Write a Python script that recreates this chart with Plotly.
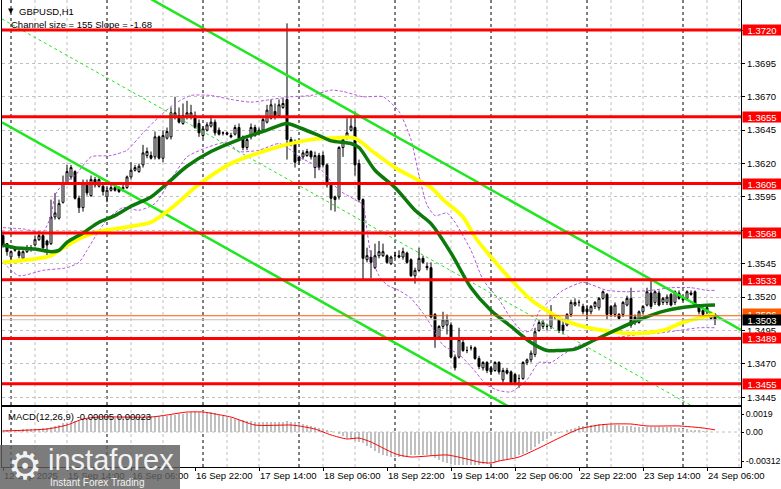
import plotly.graph_objects as go

W, H = 781, 489

# ---------------- data ----------------
time_labels = ["12 Sep 2025", "15 Sep 14:00", "16 Sep 06:00", "16 Sep 22:00", "17 Sep 14:00",
               "18 Sep 06:00", "18 Sep 22:00", "19 Sep 14:00", "22 Sep 06:00", "22 Sep 22:00",
               "23 Sep 14:00", "24 Sep 06:00"]
label_bars = [0, 16, 32, 48, 64, 80, 96, 112, 128, 144, 160, 176]
day_separator_bars = [2, 26, 50, 74, 98, 122, 146, 170]
grid_bars = [8, 16, 32, 40, 56, 64, 80, 88, 104, 112, 128, 136, 152, 160, 176, 184]

opens = [1.3566,1.3560,1.3550,1.3555,1.3554,1.3549,1.3554,1.3556,1.3559,1.3563,
 1.3566,1.3562,1.3560,1.3580,1.3579,1.3591,1.3605,1.3610,1.3614,1.3594,
 1.3587,1.3605,1.3596,1.3608,1.3603,1.3603,1.3595,1.3600,1.3602,1.3602,
 1.3601,1.3602,1.3610,1.3615,1.3614,1.3619,1.3626,1.3626,1.3625,1.3640,
 1.3624,1.3639,1.3640,1.3655,1.3656,1.3650,1.3655,1.3655,1.3656,1.3650,
 1.3641,1.3645,1.3648,1.3651,1.3645,1.3643,1.3643,1.3641,1.3642,1.3647,
 1.3640,1.3632,1.3640,1.3647,1.3643,1.3645,1.3651,1.3654,1.3659,1.3656,
 1.3662,1.3668,1.3638,1.3635,1.3625,1.3625,1.3626,1.3629,1.3617,1.3626,
 1.3626,1.3619,1.3604,1.3595,1.3595,1.3632,1.3639,1.3645,1.3647,1.3620,
 1.3593,1.3548,1.3550,1.3542,1.3551,1.3551,1.3551,1.3545,1.3551,1.3551,
 1.3550,1.3553,1.3548,1.3536,1.3540,1.3549,1.3543,1.3542,1.3507,1.3490,
 1.3498,1.3499,1.3499,1.3475,1.3475,1.3486,1.3480,1.3482,1.3482,1.3474,
 1.3467,1.3471,1.3467,1.3465,1.3471,1.3458,1.3465,1.3464,1.3462,1.3459,
 1.3459,1.3471,1.3473,1.3477,1.3495,1.3498,1.3498,1.3498,1.3505,1.3504,
 1.3499,1.3499,1.3507,1.3514,1.3516,1.3513,1.3511,1.3509,1.3513,1.3512,
 1.3519,1.3522,1.3513,1.3507,1.3507,1.3507,1.3514,1.3519,1.3505,1.3501,
 1.3509,1.3514,1.3523,1.3516,1.3523,1.3516,1.3516,1.3522,1.3516,1.3523,
 1.3519,1.3519,1.3523,1.3524,1.3513,1.3510,1.3509,1.3504,1.3507]

closes = [1.3559,1.3554,1.3554,1.3556,1.3551,1.3554,1.3557,1.3557,1.3563,1.3566,
 1.3557,1.3559,1.3580,1.3583,1.3590,1.3605,1.3614,1.3617,1.3594,1.3587,
 1.3605,1.3598,1.3608,1.3604,1.3608,1.3599,1.3600,1.3602,1.3600,1.3599,
 1.3602,1.3610,1.3615,1.3617,1.3618,1.3628,1.3629,1.3624,1.3640,1.3624,
 1.3641,1.3644,1.3658,1.3658,1.3651,1.3656,1.3658,1.3658,1.3647,1.3643,
 1.3646,1.3649,1.3651,1.3643,1.3642,1.3643,1.3642,1.3640,1.3647,1.3639,
 1.3632,1.3638,1.3647,1.3641,1.3645,1.3653,1.3660,1.3664,1.3655,1.3664,
 1.3665,1.3638,1.3635,1.3621,1.3622,1.3628,1.3629,1.3625,1.3626,1.3617,
 1.3619,1.3604,1.3594,1.3593,1.3632,1.3638,1.3643,1.3648,1.3619,1.3593,
 1.3549,1.3551,1.3546,1.3551,1.3554,1.3554,1.3546,1.3550,1.3551,1.3550,
 1.3554,1.3546,1.3536,1.3540,1.3549,1.3546,1.3542,1.3505,1.3489,1.3498,
 1.3503,1.3503,1.3475,1.3467,1.3488,1.3480,1.3480,1.3482,1.3474,1.3468,
 1.3471,1.3465,1.3464,1.3471,1.3464,1.3465,1.3463,1.3456,1.3456,1.3459,
 1.3471,1.3473,1.3478,1.3494,1.3501,1.3501,1.3498,1.3507,1.3505,1.3495,
 1.3495,1.3507,1.3516,1.3516,1.3516,1.3509,1.3509,1.3513,1.3516,1.3519,
 1.3524,1.3507,1.3507,1.3514,1.3504,1.3516,1.3519,1.3499,1.3501,1.3509,
 1.3513,1.3524,1.3513,1.3524,1.3514,1.3519,1.3520,1.3514,1.3524,1.3519,
 1.3518,1.3524,1.3522,1.3514,1.3509,1.3507,1.3512,1.3508,1.3503]

highs = [1.3569,1.3560,1.3555,1.3557,1.3556,1.3555,1.3559,1.3559,1.3566,1.3569,
 1.3568,1.3563,1.3593,1.3598,1.3593,1.3611,1.3619,1.3619,1.3615,1.3596,
 1.3608,1.3608,1.3611,1.3610,1.3609,1.3605,1.3602,1.3605,1.3603,1.3603,
 1.3605,1.3611,1.3621,1.3619,1.3620,1.3634,1.3632,1.3629,1.3644,1.3641,
 1.3645,1.3647,1.3662,1.3670,1.3662,1.3665,1.3667,1.3664,1.3659,1.3653,
 1.3648,1.3651,1.3656,1.3653,1.3647,1.3644,1.3644,1.3643,1.3649,1.3650,
 1.3641,1.3640,1.3650,1.3649,1.3647,1.3655,1.3664,1.3668,1.3665,1.3668,
 1.3669,1.3725,1.3640,1.3638,1.3626,1.3630,1.3631,1.3630,1.3629,1.3628,
 1.3629,1.3620,1.3605,1.3596,1.3633,1.3639,1.3654,1.3654,1.3659,1.3623,
 1.3594,1.3557,1.3555,1.3560,1.3562,1.3560,1.3552,1.3551,1.3554,1.3555,
 1.3557,1.3554,1.3549,1.3542,1.3557,1.3551,1.3546,1.3546,1.3508,1.3499,
 1.3509,1.3507,1.3501,1.3477,1.3497,1.3488,1.3483,1.3484,1.3483,1.3476,
 1.3472,1.3472,1.3468,1.3472,1.3472,1.3467,1.3467,1.3465,1.3463,1.3462,
 1.3472,1.3474,1.3480,1.3497,1.3503,1.3503,1.3500,1.3514,1.3507,1.3506,
 1.3503,1.3508,1.3518,1.3519,1.3518,1.3515,1.3514,1.3514,1.3517,1.3520,
 1.3525,1.3523,1.3514,1.3516,1.3508,1.3517,1.3521,1.3527,1.3507,1.3510,
 1.3514,1.3527,1.3534,1.3525,1.3525,1.3520,1.3522,1.3523,1.3525,1.3525,
 1.3521,1.3525,1.3525,1.3525,1.3514,1.3512,1.3513,1.3509,1.3508]

lows = [1.3557,1.3551,1.3546,1.3554,1.3549,1.3548,1.3553,1.3554,1.3558,1.3562,
 1.3556,1.3551,1.3559,1.3578,1.3578,1.3590,1.3604,1.3608,1.3593,1.3583,
 1.3584,1.3596,1.3595,1.3602,1.3602,1.3596,1.3591,1.3599,1.3599,1.3598,
 1.3599,1.3601,1.3608,1.3614,1.3613,1.3617,1.3624,1.3623,1.3623,1.3623,
 1.3621,1.3638,1.3638,1.3653,1.3650,1.3649,1.3653,1.3653,1.3646,1.3640,
 1.3639,1.3644,1.3647,1.3641,1.3641,1.3641,1.3641,1.3639,1.3641,1.3638,
 1.3630,1.3630,1.3638,1.3640,1.3641,1.3644,1.3650,1.3653,1.3653,1.3655,
 1.3661,1.3623,1.3633,1.3617,1.3619,1.3623,1.3625,1.3623,1.3609,1.3615,
 1.3617,1.3602,1.3585,1.3584,1.3593,1.3625,1.3638,1.3644,1.3611,1.3591,
 1.3533,1.3546,1.3534,1.3541,1.3549,1.3550,1.3545,1.3544,1.3549,1.3549,
 1.3548,1.3545,1.3535,1.3530,1.3539,1.3545,1.3540,1.3504,1.3482,1.3489,
 1.3496,1.3492,1.3474,1.3465,1.3474,1.3479,1.3478,1.3480,1.3473,1.3466,
 1.3465,1.3463,1.3462,1.3464,1.3462,1.3456,1.3462,1.3455,1.3455,1.3452,
 1.3458,1.3469,1.3471,1.3475,1.3494,1.3496,1.3495,1.3496,1.3503,1.3493,
 1.3492,1.3498,1.3505,1.3513,1.3513,1.3507,1.3503,1.3507,1.3511,1.3510,
 1.3518,1.3503,1.3505,1.3505,1.3503,1.3505,1.3513,1.3497,1.3499,1.3500,
 1.3507,1.3513,1.3511,1.3514,1.3513,1.3514,1.3514,1.3513,1.3514,1.3518,
 1.3517,1.3518,1.3521,1.3513,1.3507,1.3505,1.3507,1.3503,1.3499]

bars = list(range(len(closes)))
assert len(opens) == len(closes) == len(highs) == len(lows) == 179

# moving averages
ma_green_bars = [0, 3, 8, 12, 14, 16, 20, 24, 28, 32, 37, 41, 46, 52, 59, 66, 71, 74, 79, 82,
                 87, 89, 93, 98, 103, 107, 112, 117, 122, 127, 132, 136, 139, 143, 148, 153,
                 159, 166, 172, 178]
ma_green = [1.3559, 1.3557, 1.3556, 1.3554, 1.3555, 1.3561, 1.3568, 1.3576, 1.3581, 1.3588,
            1.3595, 1.3605, 1.3618, 1.3629, 1.3638, 1.3645, 1.3650, 1.3647, 1.3641, 1.3637,
            1.3635, 1.3632, 1.3615, 1.3602, 1.3585, 1.3575, 1.3553, 1.3527, 1.3510, 1.3498,
            1.3486, 1.3480, 1.3480, 1.3481, 1.3488, 1.3495, 1.3503, 1.3510, 1.3513, 1.3514]
ma_yellow_bars = [0, 9, 12, 14, 20, 24, 32, 37, 41, 45, 48, 57, 66, 72, 77, 82, 88, 92, 98,
                  107, 110, 115, 118, 122, 127, 132, 137, 140, 145, 150, 155, 160, 165, 170,
                  175, 178]
ma_yellow = [1.3546, 1.3549, 1.3551, 1.3555, 1.3565, 1.3569, 1.3573, 1.3576, 1.3584, 1.3594,
             1.3602, 1.3620, 1.3630, 1.3635, 1.3638, 1.3639, 1.3639, 1.3630, 1.3617, 1.3602,
             1.3593, 1.3580, 1.3565, 1.3550, 1.3533, 1.3518, 1.3508, 1.3503, 1.3498, 1.3495,
             1.3493, 1.3493, 1.3495, 1.3501, 1.3505, 1.3507]

# envelope bands (violet dashed)
band_up_bars = [0, 5, 10, 12, 13, 15, 18, 22, 27, 31, 35, 39, 43, 47, 52, 57, 62, 67, 72, 77,
                82, 85, 90, 95, 99, 102, 104, 106, 108, 111, 113, 117, 120, 124, 127, 130, 132,
                134, 137, 140, 145, 151, 156, 162, 167, 172, 176, 178]
band_up = [1.3572, 1.3571, 1.3569, 1.3581, 1.3596, 1.3605, 1.3611, 1.3625, 1.3626, 1.3630,
           1.3643, 1.3655, 1.3665, 1.3671, 1.3671, 1.3668, 1.3666, 1.3668, 1.3670, 1.3671,
           1.3675, 1.3674, 1.3670, 1.3670, 1.3659, 1.3638, 1.3611, 1.3589, 1.3581, 1.3583,
           1.3576, 1.3555, 1.3533, 1.3518, 1.3504, 1.3494, 1.3495, 1.3509, 1.3518, 1.3525,
           1.3531, 1.3525, 1.3524, 1.3525, 1.3527, 1.3527, 1.3525, 1.3525]
band_lo_bars = [0, 4, 10, 16, 19, 21, 23, 26, 30, 34, 38, 42, 46, 51, 56, 59, 64, 69, 72, 74,
                79, 84, 88, 90, 91, 92, 94, 96, 99, 102, 105, 107, 110, 114, 117, 121, 124, 127,
                131, 134, 137, 140, 144, 149, 154, 159, 164, 169, 174, 178]
band_lo = [1.3546, 1.3536, 1.3540, 1.3542, 1.3546, 1.3555, 1.3565, 1.3578, 1.3587, 1.3585,
           1.3590, 1.3608, 1.3625, 1.3632, 1.3636, 1.3629, 1.3630, 1.3635, 1.3630, 1.3625,
           1.3617, 1.3600, 1.3593, 1.3589, 1.3570, 1.3551, 1.3536, 1.3529, 1.3525, 1.3519,
           1.3508, 1.3499, 1.3484, 1.3477, 1.3468, 1.3454, 1.3450, 1.3449, 1.3458, 1.3471,
           1.3471, 1.3477, 1.3484, 1.3488, 1.3490, 1.3492, 1.3493, 1.3495, 1.3497, 1.3497]

# regression channel (size 155 pips, slope -1.68)
channel_bars = [-0.25, 184.5]
channel_upper = [1.38058, 1.34954]
channel_middle = [1.37283, 1.34179]
channel_lower = [1.36508, 1.33404]

# MACD(12,26,9)
macd_main = [0.00022, 0.00023, 0.00024, 0.00025, 0.00026, 0.00028, 0.00030, 0.00032, 0.00034, 0.00037,
 0.00040, 0.00044, 0.00055, 0.00068, 0.00080, 0.00092, 0.00102, 0.00110, 0.00118, 0.00125,
 0.00132, 0.00138, 0.00143, 0.00147, 0.00150, 0.00152, 0.00154, 0.00155, 0.00156, 0.00157,
 0.00158, 0.00160, 0.00162, 0.00163, 0.00164, 0.00166, 0.00167, 0.00168, 0.00169, 0.00171,
 0.00172, 0.00175, 0.00180, 0.00186, 0.00192, 0.00198, 0.00204, 0.00210, 0.00215, 0.00220,
 0.00222, 0.00220, 0.00212, 0.00200, 0.00188, 0.00175, 0.00162, 0.00150, 0.00140, 0.00132,
 0.00126, 0.00120, 0.00116, 0.00113, 0.00110, 0.00108, 0.00107, 0.00107, 0.00108, 0.00110,
 0.00112, 0.00115, 0.00110, 0.00104, 0.00095, 0.00085, 0.00075, 0.00065, 0.00055, 0.00045,
 0.00035, 0.00022, 0.00010, -0.00003, -0.00020, -0.00040, -0.00060, -0.00080, -0.00095, -0.00105,
 -0.00120, -0.00150, -0.00175, -0.00200, -0.00222, -0.00242, -0.00258, -0.00268, -0.00272, -0.00270,
 -0.00265, -0.00258, -0.00252, -0.00248, -0.00246, -0.00246, -0.00250, -0.00262, -0.00285, -0.00305,
 -0.00320, -0.00333, -0.00345, -0.00352, -0.00356, -0.00358, -0.00358, -0.00357, -0.00355, -0.00352,
 -0.00348, -0.00342, -0.00335, -0.00325, -0.00315, -0.00302, -0.00290, -0.00278, -0.00264, -0.00250,
 -0.00235, -0.00215, -0.00190, -0.00160, -0.00130, -0.00100, -0.00070, -0.00045, -0.00025, -0.00008,
 0.00005, 0.00020, 0.00035, 0.00048, 0.00060, 0.00068, 0.00074, 0.00078, 0.00080, 0.00082,
 0.00082, 0.00080, 0.00078, 0.00075, 0.00072, 0.00068, 0.00065, 0.00062, 0.00058, 0.00055,
 0.00052, 0.00052, 0.00053, 0.00054, 0.00055, 0.00055, 0.00054, 0.00050, 0.00045, 0.00040,
 0.00035, 0.00030, 0.00026, 0.00022, 0.00018, 0.00014, 0.00008, 0.00002, -0.00005]
assert len(macd_main) == 179
signal_bars = [0, 11, 16, 20, 24, 37, 41, 46, 50, 53, 57, 63, 72, 74, 78, 82, 86, 89, 92, 97,
               99, 102, 111, 116, 119, 122, 124, 129, 134, 139, 144, 149, 152, 157, 161, 169, 175, 178]
macd_signal = [0.00011, 0.00032, 0.00075, 0.00140, 0.00161, 0.00161, 0.00183, 0.00215, 0.00215, 0.00194,
               0.00161, 0.00075, 0.00075, 0.00065, 0.00032, -0.00032, -0.00075, -0.00065, -0.00108, -0.00215,
               -0.00247, -0.00269, -0.00247, -0.00291, -0.00323, -0.00334, -0.00312, -0.00269, -0.00172, -0.00065,
               0.00032, 0.00075, 0.00086, 0.00086, 0.00065, 0.00065, 0.00043, 0.00023]

levels = [1.3720, 1.3655, 1.3605, 1.3568, 1.3533, 1.3489, 1.3455]
level_labels = ["1.3720", "1.3655", "1.3605", "1.3568", "1.3533", "1.3489", "1.3455"]
price_ticks = [1.3445, 1.3470, 1.3495, 1.3520, 1.3545, 1.3570, 1.3595, 1.3620, 1.3645, 1.3670, 1.3695, 1.3720]
# 1.3570 and 1.3720 are covered by level labels in the original
price_tick_labels = ["1.3445", "1.3470", "1.3495", "1.3520", "1.3545", "", "1.3595",
                     "1.3620", "1.3645", "1.3670", "1.3695", ""]
macd_ticks = [0.0019, 0.0, -0.00312]
macd_tick_labels = ["0.0019", "0.00", "-0.00312"]
bid_price = 1.3503
ask_price = 1.3506

# ---------------- geometry ----------------
def fx(px):
    return px / W

def fy(px):
    return 1 - px / H

FONT = "Liberation Sans, Arial, sans-serif"
X_DOMAIN = [fx(2), fx(741)]
X_RANGE = [-0.25, 184.5]
MAIN_DOMAIN = [fy(405), 1.0]
MACD_DOMAIN = [fy(467), fy(407)]

fig = go.Figure()

fig.add_trace(go.Candlestick(
    x=bars, open=opens, high=highs, low=lows, close=closes,
    increasing=dict(fillcolor="white", line=dict(color="black", width=1)),
    decreasing=dict(fillcolor="black", line=dict(color="black", width=1)),
    whiskerwidth=0, hoverinfo="skip", xaxis="x", yaxis="y"))

dash_violet = dict(color="#b455e0", width=1, dash="3px,2px")
fig.add_trace(go.Scatter(x=band_up_bars, y=band_up, mode="lines", line=dict(shape="spline", smoothing=0.6, **dash_violet), xaxis="x", yaxis="y", hoverinfo="skip"))
fig.add_trace(go.Scatter(x=band_lo_bars, y=band_lo, mode="lines", line=dict(shape="spline", smoothing=0.6, **dash_violet), xaxis="x", yaxis="y", hoverinfo="skip"))

lime = "#1fe61f"
fig.add_trace(go.Scatter(x=channel_bars, y=channel_upper, mode="lines", line=dict(color=lime, width=2.5), xaxis="x", yaxis="y", hoverinfo="skip"))
fig.add_trace(go.Scatter(x=channel_bars, y=channel_lower, mode="lines", line=dict(color=lime, width=2.5), xaxis="x", yaxis="y", hoverinfo="skip"))
fig.add_trace(go.Scatter(x=channel_bars, y=channel_middle, mode="lines", line=dict(color=lime, width=1, dash="3px,3px"), xaxis="x", yaxis="y", hoverinfo="skip"))

fig.add_trace(go.Scatter(x=ma_yellow_bars, y=ma_yellow, mode="lines", line=dict(color="#ffff00", width=3.8, shape="spline", smoothing=0.8), xaxis="x", yaxis="y", hoverinfo="skip"))
fig.add_trace(go.Scatter(x=ma_green_bars, y=ma_green, mode="lines", line=dict(color="#0b7a0b", width=3.5, shape="spline", smoothing=0.8), xaxis="x", yaxis="y", hoverinfo="skip"))

fig.add_trace(go.Bar(x=bars, y=macd_main, marker=dict(color="#c0c0c0", line=dict(width=0)), width=0.55, xaxis="x2", yaxis="y2", hoverinfo="skip"))
fig.add_trace(go.Scatter(x=signal_bars, y=macd_signal, mode="lines", line=dict(color="#ff0000", width=1, shape="spline", smoothing=0.6), xaxis="x2", yaxis="y2", hoverinfo="skip"))

shapes = []
for b in grid_bars:
    for xr, yr in (("x", "y domain"), ("x2", "y2 domain")):
        shapes.append(dict(type="line", xref=xr, yref=yr, x0=b, x1=b, y0=0, y1=1,
                           line=dict(color="#c0c0c0", width=1, dash="3px,3px"), layer="below"))
for b in day_separator_bars:
    for xr, yr in (("x", "y domain"), ("x2", "y2 domain")):
        shapes.append(dict(type="line", xref=xr, yref=yr, x0=b, x1=b, y0=0, y1=1,
                           line=dict(color="black", width=1, dash="3px,3px"), layer="below"))
shapes.append(dict(type="line", xref="x2 domain", yref="y2", x0=0, x1=1, y0=0, y1=0,
                   line=dict(color="#c0c0c0", width=1, dash="3px,3px"), layer="below"))
for lv in levels:
    shapes.append(dict(type="line", xref="x domain", yref="y", x0=0, x1=1, y0=lv, y1=lv,
                       line=dict(color="#ff0000", width=3), layer="above"))
shapes.append(dict(type="line", xref="x domain", yref="y", x0=0, x1=1, y0=bid_price, y1=bid_price,
                   line=dict(color="#c0c0c0", width=1), layer="above"))
shapes.append(dict(type="line", xref="x domain", yref="y", x0=0, x1=1, y0=ask_price, y1=ask_price,
                   line=dict(color="#ff5a00", width=1), layer="above"))
shapes.append(dict(type="rect", xref="paper", yref="paper", x0=0, x1=fx(180), y0=0, y1=fy(445),
                   fillcolor="rgba(95,95,95,0.82)", line=dict(width=0), layer="above"))

annotations = []
for lv, txt in zip(levels, level_labels):
    annotations.append(dict(xref="paper", yref="y", x=fx(742), y=lv, xanchor="left", yanchor="middle",
                            text=txt, showarrow=False, bgcolor="#ff0000", width=38, height=10,
                            borderpad=0, align="center", font=dict(family=FONT, size=9.5, color="white")))
annotations.append(dict(xref="paper", yref="y", x=fx(742), y=ask_price + 0.00012, xanchor="left", yanchor="middle",
                        text="1.3506", showarrow=False, bgcolor="#ff5a00", width=38, height=10,
                        borderpad=0, align="center", font=dict(family=FONT, size=9.5, color="white")))
annotations.append(dict(xref="paper", yref="y", x=fx(742), y=bid_price, xanchor="left", yanchor="middle",
                        text="1.3503", showarrow=False, bgcolor="#000000", width=38, height=10,
                        borderpad=0, align="center", font=dict(family=FONT, size=9.5, color="white")))
annotations.append(dict(xref="paper", yref="paper", x=fx(6), y=fy(11), xanchor="left", yanchor="middle",
                        text="▼", showarrow=False, font=dict(family="DejaVu Sans", size=7, color="black")))
annotations.append(dict(xref="paper", yref="paper", x=fx(17), y=fy(11), xanchor="left", yanchor="middle",
                        text="GBPUSD,H1", showarrow=False, font=dict(family=FONT, size=9.5, color="black")))
annotations.append(dict(xref="paper", yref="paper", x=fx(9), y=fy(24), xanchor="left", yanchor="middle",
                        text="Channel size = 155 Slope = -1.68", showarrow=False,
                        font=dict(family=FONT, size=9.5, color="black")))
annotations.append(dict(xref="paper", yref="paper", x=fx(6), y=fy(416), xanchor="left", yanchor="middle",
                        text="MACD(12,26,9) -0.00005 0.00023", showarrow=False,
                        font=dict(family=FONT, size=9.5, color="black")))
annotations.append(dict(xref="paper", yref="paper", x=fx(25), y=fy(466), xanchor="center", yanchor="middle",
                        text="⚙", showarrow=False, font=dict(family="DejaVu Sans", size=38, color="#f2f2f2")))
annotations.append(dict(xref="paper", yref="paper", x=fx(46), y=fy(460), xanchor="left", yanchor="middle",
                        text="instaforex", showarrow=False, font=dict(family=FONT, size=29, color="#f2f2f2")))
annotations.append(dict(xref="paper", yref="paper", x=fx(48), y=fy(482), xanchor="left", yanchor="middle",
                        text="Instant Forex Trading", showarrow=False, font=dict(family=FONT, size=10, color="#f2f2f2")))

axis_common = dict(showline=True, mirror=True, linecolor="black", linewidth=1, zeroline=False,
                   fixedrange=True, automargin=False)

fig.update_layout(
    width=W, height=H, margin=dict(l=0, r=0, t=0, b=0, pad=0, autoexpand=False),
    paper_bgcolor="white", plot_bgcolor="white", showlegend=False,
    font=dict(family=FONT, size=9.5, color="black"),
    bargap=0,
    xaxis=dict(domain=X_DOMAIN, range=X_RANGE, anchor="y", showticklabels=False, showgrid=False,
               ticks="", rangeslider=dict(visible=False), **axis_common),
    yaxis=dict(domain=MAIN_DOMAIN, range=[1.343915, 1.37425], anchor="x", side="right",
               tickvals=price_ticks, ticktext=price_tick_labels, ticks="outside", ticklen=3,
               tickcolor="black", showgrid=True, gridcolor="#c0c0c0", griddash="3px,3px", gridwidth=1,
               tickfont=dict(family=FONT, size=9.5, color="black"), **axis_common),
    xaxis2=dict(domain=X_DOMAIN, range=X_RANGE, anchor="y2", tickvals=label_bars, ticktext=time_labels,
                ticks="outside", ticklen=3, tickcolor="black", ticklabelposition="outside right",
                tickangle=0, showgrid=False, tickfont=dict(family=FONT, size=9.5, color="black"),
                **axis_common),
    yaxis2=dict(domain=MACD_DOMAIN, range=[-0.003765, 0.00269], anchor="x2", side="right",
                tickvals=macd_ticks, ticktext=macd_tick_labels, ticks="outside", ticklen=2,
                tickcolor="black", showgrid=False, tickfont=dict(family=FONT, size=8.8, color="black"),
                **axis_common),
    shapes=shapes, annotations=annotations,
)

fig.write_html("out.html", config={"displayModeBar": False, "staticPlot": True},
               post_script="document.body.style.margin='0px';document.body.style.overflow='hidden';")
